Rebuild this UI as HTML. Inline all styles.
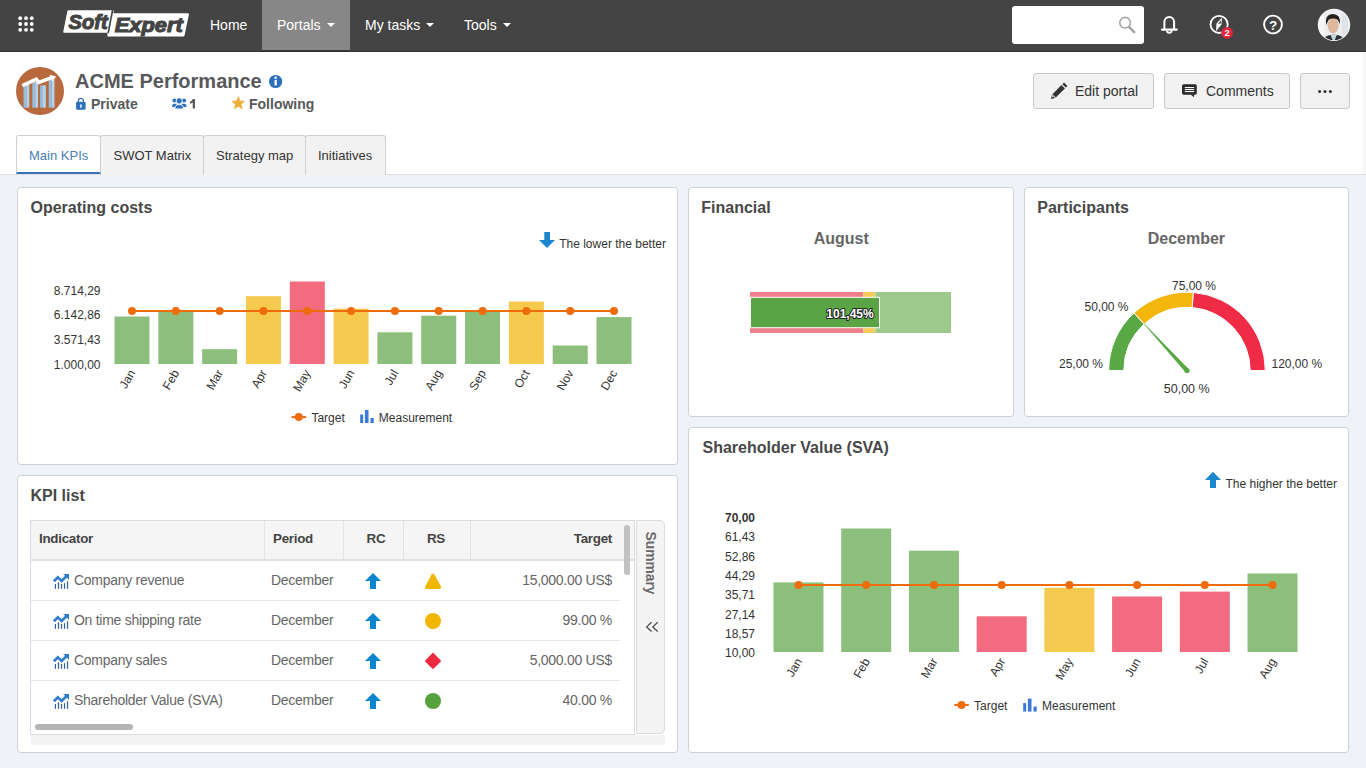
<!DOCTYPE html>
<html><head><meta charset="utf-8"><title>ACME Performance</title>
<style>
*{box-sizing:border-box;margin:0;padding:0}
html,body{width:1366px;height:768px;overflow:hidden}
body{position:relative;background:#eff2f6;font-family:"Liberation Sans",sans-serif;color:#333}
.a{position:absolute}
#nav{left:0;top:0;width:1366px;height:52px;background:#444;border-bottom:1px solid #333}
.ni{position:absolute;top:0;height:50px;line-height:50px;color:#fff;font-size:14px;white-space:nowrap}
.car{display:inline-block;width:0;height:0;border-left:4px solid transparent;border-right:4px solid transparent;border-top:4px solid #fff;vertical-align:middle;margin-left:6px;position:relative;top:-1px}
#hdr{left:0;top:52px;width:1366px;height:123px;background:#fff;border-bottom:1px solid #dcdfe3}
.btn{position:absolute;top:73px;height:36px;background:#f1f1f1;border:1px solid #c9c9c9;border-radius:3px;font-size:14px;color:#333;line-height:34px;white-space:nowrap}
.tab{position:absolute;top:135px;height:40px;background:#f2f2f2;border:1px solid #d0d0d0;border-bottom:none;border-radius:3px 3px 0 0;font-size:13px;color:#333;line-height:39px;padding-left:12px;white-space:nowrap}
.pnl{position:absolute;background:#fff;border:1px solid #cdd0d4;border-radius:3.5px}
.ttl{position:absolute;font-size:16px;font-weight:bold;color:#484848;white-space:nowrap}
</style></head>
<body>
<div id="nav" class="a">
<svg class="a" style="left:0;top:0" width="200" height="50" viewBox="0 0 200 50">
 <g fill="#fff">
  <circle cx="20.2" cy="18.2" r="1.9"/><circle cx="26" cy="18.2" r="1.9"/><circle cx="31.8" cy="18.2" r="1.9"/>
  <circle cx="20.2" cy="24" r="1.9"/><circle cx="26" cy="24" r="1.9"/><circle cx="31.8" cy="24" r="1.9"/>
  <circle cx="20.2" cy="29.8" r="1.9"/><circle cx="26" cy="29.8" r="1.9"/><circle cx="31.8" cy="29.8" r="1.9"/>
 </g>
 <path d="M68.5 10.2 L112.8 10.2 Q114 10.2 113.7 11.4 L109.3 31.6 Q109 32.8 107.8 32.8 L64.3 32.8 Q63 32.8 63.3 31.6 L67.3 11.4 Q67.5 10.2 68.5 10.2Z" fill="#fff"/>
 <path d="M111.6 13.2 L187.8 13.2 Q189.2 13.2 188.9 14.4 L184.6 35.2 Q184.3 36.4 183 36.4 L108.3 36.4 Q107 36.4 107.3 35.2 L110.5 14.4 Q110.7 13.2 111.6 13.2Z" fill="#fff"/>
 <line x1="112.6" y1="10" x2="108.2" y2="33" stroke="#444" stroke-width="1.6"/>
 <text x="68.6" y="29.2" font-family="Liberation Sans" font-weight="bold" font-style="italic" font-size="20" fill="#444" textLength="39" lengthAdjust="spacingAndGlyphs" stroke="#444" stroke-width="1.1">Soft</text>
 <text x="114.8" y="31.6" font-family="Liberation Sans" font-weight="bold" font-style="italic" font-size="20" fill="#444" textLength="68" lengthAdjust="spacingAndGlyphs" stroke="#444" stroke-width="1.1">Expert</text>
</svg>
<div class="ni" style="left:195px;width:66px;padding-left:15px">Home</div>
<div class="ni" style="left:262px;width:88px;padding-left:15px;background:#878787;box-shadow:0 1px 0 #383838">Portals<span class="car"></span></div>
<div class="ni" style="left:350px;width:99px;padding-left:15px">My tasks<span class="car"></span></div>
<div class="ni" style="left:449px;width:80px;padding-left:15px">Tools<span class="car"></span></div>
<div class="a" style="left:1012px;top:6px;width:132px;height:38px;background:#fff;border-radius:3px"></div>
<svg class="a" style="left:1000px;top:0" width="366" height="50" viewBox="1000 0 366 50">
 <circle cx="1125.1" cy="22.7" r="5.3" fill="none" stroke="#a6a6a6" stroke-width="1.6"/>
 <line x1="1129.3" y1="27.2" x2="1134.2" y2="32.2" stroke="#a0a0a0" stroke-width="2.4" stroke-linecap="round"/>
 <!-- bell -->
 <path d="M1164.4 29 V21.9 A4.85 4.85 0 0 1 1174.1 21.9 V29" fill="none" stroke="#fff" stroke-width="2"/>
 <rect x="1161" y="28.6" width="16.7" height="2.2" rx="1" fill="#fff"/>
 <path d="M1167 30.6 A2.3 2.3 0 0 0 1171.6 30.6" fill="none" stroke="#fff" stroke-width="1.8"/>
 <!-- compass -->
 <circle cx="1219.1" cy="24.4" r="8.6" fill="none" stroke="#fff" stroke-width="1.8"/>
 <path d="M1221.9 17.6 L1221.5 24.6 L1216.1 31.2 L1216.4 23.8 Z" fill="#fff"/>
 <path d="M1221 20.2 L1218 23.9 L1220.8 23.6 Z" fill="#444"/>
 <circle cx="1227.1" cy="32.8" r="5.9" fill="#e3243b"/>
 <text x="1227.1" y="36.3" text-anchor="middle" font-family="Liberation Sans" font-weight="bold" font-size="9.5" fill="#fff">2</text>
 <!-- help -->
 <circle cx="1273" cy="24.5" r="8.9" fill="none" stroke="#fff" stroke-width="1.9"/>
 <text x="1273.1" y="29.5" text-anchor="middle" font-family="Liberation Sans" font-weight="bold" font-size="13.5" fill="#fff">?</text>
 <!-- avatar -->
 <circle cx="1334" cy="24.9" r="16.2" fill="#f5f5f6"/>
 <clipPath id="av"><circle cx="1334" cy="24.9" r="15.2"/></clipPath>
 <g clip-path="url(#av)">
  <rect x="1318" y="8" width="34" height="34" fill="#eceef1"/>
  <rect x="1318" y="8" width="6" height="34" fill="#f7f7f8"/>
  <rect x="1342" y="8" width="6" height="34" fill="#dfe3e8"/>
  <path d="M1324 41 L1326 36.4 Q1329 34.6 1333.6 34.8 Q1339 34.6 1341.6 36.4 L1344 41 Z" fill="#2e3034"/>
  <path d="M1330.6 35 L1336.8 35 L1334.6 40.5 L1332.8 40.5 Z" fill="#c4d6de"/>
  <ellipse cx="1333.2" cy="25.6" rx="5.6" ry="7.6" fill="#dfb99c"/>
  <path d="M1326 25 Q1324.6 14.2 1332.8 14 Q1341 14.2 1339.8 24 L1338.6 21.6 Q1337.6 18.4 1333 18.6 Q1328.4 18.6 1327.6 22 Z" fill="#26211f"/>
 </g>
</svg>
</div>
<div id="hdr" class="a"></div>
<svg class="a" style="left:0;top:52px" width="330" height="70" viewBox="0 52 330 70">
 <circle cx="40" cy="91" r="24" fill="#b86a3e"/>
 <rect x="23.5" y="84.6" width="2.9" height="23.1" fill="#95bddd"/><rect x="26.4" y="84.6" width="2.9" height="23.1" fill="#b4d2e8"/>
 <rect x="32.3" y="81.9" width="2.9" height="25.8" fill="#95bddd"/><rect x="35.2" y="81.9" width="2.9" height="25.8" fill="#b4d2e8"/>
 <rect x="40.1" y="85.3" width="2.9" height="22.4" fill="#95bddd"/><rect x="43.0" y="85.3" width="2.9" height="22.4" fill="#b4d2e8"/>
 <rect x="48.7" y="79.6" width="2.9" height="28.1" fill="#95bddd"/><rect x="51.6" y="79.6" width="2.9" height="28.1" fill="#b4d2e8"/>
 <path d="M22.3 85.6 L36.3 79.2 L38.8 82.4 L51.6 77.6" fill="none" stroke="#fff" stroke-width="3.4" stroke-linejoin="miter"/>
 <path d="M49.6 74.8 L56.2 76.4 L52.4 81.6 Z" fill="#fff"/>
 <!-- info -->
 <circle cx="275.6" cy="81.5" r="6.6" fill="#2c6fbb"/>
 <rect x="274.5" y="80" width="2.3" height="5.4" fill="#fff"/>
 <circle cx="275.65" cy="77.8" r="1.3" fill="#fff"/>
 <!-- lock -->
 <path d="M78.4 102.2 V100.6 Q78.4 98.3 80.9 98.3 Q83.4 98.3 83.4 100.6 V102.2" fill="none" stroke="#3f6fae" stroke-width="1.3"/>
 <rect x="76.1" y="101.8" width="9.5" height="8" rx="1.2" fill="#2c6fbb"/>
 <rect x="80.1" y="104.2" width="1.6" height="3.6" rx="0.6" fill="#e8efff"/>
 <path d="M192.8 98.9 L194.95 98.9 L194.95 108.6 L192.75 108.6 L192.75 102.4 Q191.6 103.4 190 103.8 L190 101.8 Q191.9 101.1 192.8 98.9 Z" fill="#58595b"/>
 <!-- users -->
 <g fill="#2c6fbb">
  <circle cx="174.5" cy="100.5" r="2.1"/><path d="M172 106.9 Q172 103.7 174.5 103.7 L176.6 103.7 L176.6 106.9Z"/>
  <circle cx="184" cy="100.5" r="2.1"/><path d="M186.5 106.9 Q186.5 103.7 184 103.7 L181.9 103.7 L181.9 106.9Z"/>
 </g>
 <circle cx="179.2" cy="100.9" r="3.1" fill="#2c6fbb" stroke="#fff" stroke-width="0.9"/>
 <path d="M174.8 108.9 Q174.8 104.5 179.2 104.5 Q183.6 104.5 183.6 108.9Z" fill="#2c6fbb" stroke="#fff" stroke-width="0.9"/>
 <!-- star -->
 <path d="M238.30 96.80 L239.95 101.13 L244.58 101.36 L240.96 104.27 L242.18 108.74 L238.30 106.20 L234.42 108.74 L235.64 104.27 L232.02 101.36 L236.65 101.13 Z" fill="#f0ad36" stroke="#f0ad36" stroke-width="0.8" stroke-linejoin="round"/>
</svg>
<div class="a" style="left:75px;top:69px;font-size:20px;font-weight:bold;color:#58595b;line-height:24px;white-space:nowrap">ACME Performance</div>
<div class="a" style="left:91px;top:96px;font-size:14px;font-weight:bold;color:#58595b;line-height:16px">Private</div>
<div class="a" style="left:249px;top:96px;font-size:14px;font-weight:bold;color:#58595b;line-height:16px">Following</div>

<div class="btn" style="left:1033px;width:121px;padding-left:41px">Edit portal</div>
<div class="btn" style="left:1164px;width:126px;padding-left:41px">Comments</div>
<div class="btn" style="left:1300px;width:50px"></div>
<svg class="a" style="left:1040px;top:75px" width="320" height="32" viewBox="1040 75 320 32">
 <!-- pencil -->
 <g transform="translate(0.6,-1.6)">
 <path d="M1063.4 84.2 L1066.8 87.6 L1065.2 89.2 L1061.8 85.8 Z" fill="#333"/>
 <path d="M1060.9 86.7 L1064.3 90.1 L1055.2 99.2 L1051.8 95.8 Z" fill="#333"/>
 <path d="M1051.3 96.5 L1054.5 99.7 L1050.4 100.6 Z" fill="#333"/>
 <path d="M1051.9 97.4 L1052.9 98.4 L1051.1 98.9 Z" fill="#f1f1f1"/>
 </g>
 <!-- comment -->
 <rect x="1182" y="84.2" width="14.8" height="10.5" rx="1.6" fill="#2b2b2b"/>
 <path d="M1190.6 94.4 L1194.2 94.4 L1194 97.3 Z" fill="#2b2b2b"/>
 <g fill="#fff"><rect x="1184.8" y="87" width="9.4" height="1.1"/><rect x="1184.8" y="89" width="9.4" height="1.1"/><rect x="1184.8" y="91" width="9.4" height="1.1"/></g>
 <!-- dots -->
 <g fill="#333"><circle cx="1319.6" cy="91.5" r="1.5"/><circle cx="1325" cy="91.5" r="1.5"/><circle cx="1330.4" cy="91.5" r="1.5"/></g>
</svg>

<!-- tabs -->
<div class="tab" style="left:100px;width:104px;padding-left:12.5px">SWOT Matrix</div>
<div class="tab" style="left:203px;width:103px;padding-left:12px">Strategy map</div>
<div class="tab" style="left:305px;width:81px">Initiatives</div>
<div class="tab" style="left:16px;width:85px;background:#fff;color:#4a7db3;border-bottom:2px solid #3b72b6;height:39px">Main KPIs</div>

<div class="a" style="left:1362px;top:52px;width:4px;height:122px;background:#f8f8f8"></div>
<!-- panels -->
<div class="pnl" style="left:17px;top:187px;width:661px;height:278px"></div>
<div class="pnl" style="left:688px;top:187px;width:326px;height:230px"></div>
<div class="pnl" style="left:1024px;top:187px;width:325px;height:230px"></div>
<div class="pnl" style="left:17px;top:475px;width:661px;height:278px"></div>
<div class="pnl" style="left:688px;top:427px;width:661px;height:326px"></div>

<!-- KPI table -->
<div class="a" style="left:30px;top:520px;width:605px;height:215px;border:1px solid #dcdcdc;background:#fff;overflow:hidden">
 <div class="a" style="left:0;top:0;width:603px;height:40px;background:#f5f5f5;border-bottom:2px solid #e1e1e1"></div>
 <div class="a" style="left:233px;top:0;width:1px;height:38px;background:#e3e3e3"></div>
 <div class="a" style="left:312px;top:0;width:1px;height:38px;background:#e3e3e3"></div>
 <div class="a" style="left:372px;top:0;width:1px;height:38px;background:#e3e3e3"></div>
 <div class="a" style="left:439px;top:0;width:1px;height:38px;background:#e3e3e3"></div>
 <div class="a" style="left:0;top:79px;width:589px;height:1px;background:#e6e6e6"></div>
 <div class="a" style="left:0;top:119px;width:589px;height:1px;background:#e6e6e6"></div>
 <div class="a" style="left:0;top:159px;width:589px;height:1px;background:#e6e6e6"></div>
 <div class="a" style="left:593px;top:4px;width:6px;height:50px;border-radius:3px;background:#c1c1c1"></div>
 <div class="a" style="left:4px;top:203px;width:98px;height:6px;border-radius:3px;background:#b5b5b5"></div>
</div>
<div class="a" style="left:31px;top:735px;width:634px;height:10px;background:#f3f3f3"></div>
<div class="a" style="left:636px;top:520px;width:29px;height:214px;border:1px solid #dcdcdc;border-radius:0 5px 5px 0;background:#f4f4f4"></div>
<div class="a" style="left:30px;top:520px;width:605px;font-size:14px;letter-spacing:-0.28px;color:#666;line-height:20px">
 <div class="a" style="left:9px;top:9px;font-weight:bold;color:#444;font-size:13.4px">Indicator</div>
 <div class="a" style="left:243px;top:9px;font-weight:bold;color:#444;font-size:13.4px">Period</div>
 <div class="a" style="left:331px;top:9px;width:30px;text-align:center;font-weight:bold;color:#444;font-size:13.4px">RC</div>
 <div class="a" style="left:391px;top:9px;width:30px;text-align:center;font-weight:bold;color:#444;font-size:13.4px">RS</div>
 <div class="a" style="right:23px;top:9px;font-weight:bold;color:#444;font-size:13.4px">Target</div>
 <div class="a" style="left:44px;top:50px;white-space:nowrap">Company revenue</div>
 <div class="a" style="left:44px;top:90px;white-space:nowrap">On time shipping rate</div>
 <div class="a" style="left:44px;top:130px;white-space:nowrap">Company sales</div>
 <div class="a" style="left:44px;top:170px;white-space:nowrap">Shareholder Value (SVA)</div>
 <div class="a" style="left:241px;top:50px">December</div>
 <div class="a" style="left:241px;top:90px">December</div>
 <div class="a" style="left:241px;top:130px">December</div>
 <div class="a" style="left:241px;top:170px">December</div>
 <div class="a" style="right:23px;top:50px;white-space:nowrap">15,000.00 US$</div>
 <div class="a" style="right:23px;top:90px;white-space:nowrap">99.00 %</div>
 <div class="a" style="right:23px;top:130px;white-space:nowrap">5,000.00 US$</div>
 <div class="a" style="right:23px;top:170px;white-space:nowrap">40.00 %</div>
</div>
<svg class="a" style="left:0;top:0" width="1366" height="768" viewBox="0 0 1366 768" font-family="Liberation Sans">
<text x="30.5" y="212.5" font-size="16" font-weight="bold" fill="#484848">Operating costs</text>
<text x="701.3" y="212.5" font-size="16" font-weight="bold" fill="#484848">Financial</text>
<text x="1037.3" y="212.5" font-size="16" font-weight="bold" fill="#484848">Participants</text>
<text x="30.5" y="500.6" font-size="16" font-weight="bold" fill="#484848">KPI list</text>
<text x="702.5" y="453.2" font-size="16" font-weight="bold" fill="#484848">Shareholder Value (SVA)</text>
<rect x="114.50" y="316.5" width="35" height="47.5" fill="#8bbf7b"/>
<rect x="158.32" y="311.5" width="35" height="52.5" fill="#8bbf7b"/>
<rect x="202.14" y="349.2" width="35" height="14.8" fill="#8bbf7b"/>
<rect x="245.96" y="296.2" width="35" height="67.8" fill="#f6c94f"/>
<rect x="289.78" y="281.5" width="35" height="82.5" fill="#f26b7e"/>
<rect x="333.60" y="308.6" width="35" height="55.4" fill="#f6c94f"/>
<rect x="377.42" y="332.3" width="35" height="31.7" fill="#8bbf7b"/>
<rect x="421.24" y="315.7" width="35" height="48.3" fill="#8bbf7b"/>
<rect x="465.06" y="311.6" width="35" height="52.4" fill="#8bbf7b"/>
<rect x="508.88" y="301.6" width="35" height="62.4" fill="#f6c94f"/>
<rect x="552.70" y="345.5" width="35" height="18.5" fill="#8bbf7b"/>
<rect x="596.52" y="317.1" width="35" height="46.9" fill="#8bbf7b"/>
<line x1="132" y1="311" x2="614" y2="311" stroke="#ef6c0c" stroke-width="2"/>
<circle cx="132.00" cy="311" r="4" fill="#ef6c0c"/>
<circle cx="175.82" cy="311" r="4" fill="#ef6c0c"/>
<circle cx="219.64" cy="311" r="4" fill="#ef6c0c"/>
<circle cx="263.46" cy="311" r="4" fill="#ef6c0c"/>
<circle cx="307.28" cy="311" r="4" fill="#ef6c0c"/>
<circle cx="351.10" cy="311" r="4" fill="#ef6c0c"/>
<circle cx="394.92" cy="311" r="4" fill="#ef6c0c"/>
<circle cx="438.74" cy="311" r="4" fill="#ef6c0c"/>
<circle cx="482.56" cy="311" r="4" fill="#ef6c0c"/>
<circle cx="526.38" cy="311" r="4" fill="#ef6c0c"/>
<circle cx="570.20" cy="311" r="4" fill="#ef6c0c"/>
<circle cx="614.02" cy="311" r="4" fill="#ef6c0c"/>
<g font-size="12" fill="#333">
<text transform="translate(135.80,372.8) rotate(-60)" text-anchor="end">Jan</text>
<text transform="translate(179.62,372.8) rotate(-60)" text-anchor="end">Feb</text>
<text transform="translate(223.44,372.8) rotate(-60)" text-anchor="end">Mar</text>
<text transform="translate(267.26,372.8) rotate(-60)" text-anchor="end">Apr</text>
<text transform="translate(311.08,372.8) rotate(-60)" text-anchor="end">May</text>
<text transform="translate(354.90,372.8) rotate(-60)" text-anchor="end">Jun</text>
<text transform="translate(398.72,372.8) rotate(-60)" text-anchor="end">Jul</text>
<text transform="translate(442.54,372.8) rotate(-60)" text-anchor="end">Aug</text>
<text transform="translate(486.36,372.8) rotate(-60)" text-anchor="end">Sep</text>
<text transform="translate(530.18,372.8) rotate(-60)" text-anchor="end">Oct</text>
<text transform="translate(574.00,372.8) rotate(-60)" text-anchor="end">Nov</text>
<text transform="translate(617.82,372.8) rotate(-60)" text-anchor="end">Dec</text>
<text x="100.5" y="294.7" text-anchor="end">8.714,29</text>
<text x="100.5" y="319.4" text-anchor="end">6.142,86</text>
<text x="100.5" y="344.1" text-anchor="end">3.571,43</text>
<text x="100.5" y="368.8" text-anchor="end">1.000,00</text>
<text x="559.2" y="248">The lower the better</text>
<text x="311.4" y="421.9">Target</text><text x="378.8" y="421.9">Measurement</text>
</g>
<path d="M544.3 232 h5.7 v8 h5 l-8 8 l-8 -8 h5.3 z" fill="#1b87cf"/>
<line x1="291.6" y1="417.1" x2="306.1" y2="417.1" stroke="#ef6c0c" stroke-width="2"/><circle cx="298.8" cy="417.1" r="4" fill="#ef6c0c"/>
<g fill="#3c78d8"><rect x="360.2" y="414.5" width="3" height="8.5"/><rect x="364.9" y="410" width="3.6" height="13"/><rect x="370.5" y="418" width="3.2" height="5"/></g>
<rect x="773.50" y="582.4" width="50" height="69.6" fill="#8bbf7b"/>
<rect x="841.22" y="528.5" width="50" height="123.5" fill="#8bbf7b"/>
<rect x="908.94" y="550.7" width="50" height="101.3" fill="#8bbf7b"/>
<rect x="976.66" y="616.3" width="50" height="35.7" fill="#f26b7e"/>
<rect x="1044.38" y="587.8" width="50" height="64.2" fill="#f6c94f"/>
<rect x="1112.10" y="596.5" width="50" height="55.5" fill="#f26b7e"/>
<rect x="1179.82" y="591.6" width="50" height="60.4" fill="#f26b7e"/>
<rect x="1247.54" y="573.5" width="50" height="78.5" fill="#8bbf7b"/>
<line x1="798.5" y1="585" x2="1272.54" y2="585" stroke="#ef6c0c" stroke-width="2"/>
<circle cx="798.50" cy="585" r="4" fill="#ef6c0c"/>
<circle cx="866.22" cy="585" r="4" fill="#ef6c0c"/>
<circle cx="933.94" cy="585" r="4" fill="#ef6c0c"/>
<circle cx="1001.66" cy="585" r="4" fill="#ef6c0c"/>
<circle cx="1069.38" cy="585" r="4" fill="#ef6c0c"/>
<circle cx="1137.10" cy="585" r="4" fill="#ef6c0c"/>
<circle cx="1204.82" cy="585" r="4" fill="#ef6c0c"/>
<circle cx="1272.54" cy="585" r="4" fill="#ef6c0c"/>
<g font-size="12" fill="#333">
<text transform="translate(802.50,661.1) rotate(-60)" text-anchor="end">Jan</text>
<text transform="translate(870.22,661.1) rotate(-60)" text-anchor="end">Feb</text>
<text transform="translate(937.94,661.1) rotate(-60)" text-anchor="end">Mar</text>
<text transform="translate(1005.66,661.1) rotate(-60)" text-anchor="end">Apr</text>
<text transform="translate(1073.38,661.1) rotate(-60)" text-anchor="end">May</text>
<text transform="translate(1141.10,661.1) rotate(-60)" text-anchor="end">Jun</text>
<text transform="translate(1208.82,661.1) rotate(-60)" text-anchor="end">Jul</text>
<text transform="translate(1276.54,661.1) rotate(-60)" text-anchor="end">Aug</text>
<text x="755" y="657.2" text-anchor="end">10,00</text>
<text x="755" y="637.9" text-anchor="end">18,57</text>
<text x="755" y="618.6" text-anchor="end">27,14</text>
<text x="755" y="599.3" text-anchor="end">35,71</text>
<text x="755" y="580.0" text-anchor="end">44,29</text>
<text x="755" y="560.7" text-anchor="end">52,86</text>
<text x="755" y="541.4" text-anchor="end">61,43</text>
<text x="755" y="522.1" text-anchor="end" font-weight="bold">70,00</text>
<text x="1225.5" y="487.8">The higher the better</text>
<text x="974.1" y="709.5">Target</text><text x="1042" y="709.5">Measurement</text>
</g>
<path d="M1213.0 471.8 l8.0 8.15 h-5 v8.15 h-6 v-8.15 h-5 z" fill="#1b87cf"/>
<line x1="954.3" y1="705" x2="968.8" y2="705" stroke="#ef6c0c" stroke-width="2"/><circle cx="961.5" cy="705" r="4" fill="#ef6c0c"/>
<g fill="#3c78d8"><rect x="1023.2" y="703.1" width="3" height="8.5"/><rect x="1027.9" y="698.6" width="3.6" height="13"/><rect x="1033.5" y="706.6" width="3.2" height="5"/></g>
<text x="841.3" y="243.5" text-anchor="middle" font-size="16" font-weight="bold" fill="#666">August</text>
<rect x="750" y="292" width="113.2" height="41" fill="#f07f8c"/>
<rect x="863.2" y="292" width="12.1" height="41" fill="#f6cc5c"/>
<rect x="875.3" y="292" width="75.7" height="41" fill="#9dca8c"/>
<rect x="750.5" y="297.3" width="129" height="30.4" fill="#5aa446" stroke="#fff" stroke-width="1"/>
<text x="873.7" y="318.3" text-anchor="end" font-size="12" font-weight="bold" fill="#fff" stroke="#222" stroke-width="2" paint-order="stroke" stroke-linejoin="round">101,45%</text>
<text x="1186.4" y="244" text-anchor="middle" font-size="16" font-weight="bold" fill="#666">December</text>
<path d="M1108.70 370.50 A78.3 78.3 0 0 1 1133.97 312.89 L1144.20 324.00 A63.2 63.2 0 0 0 1123.80 370.50 Z" fill="#58a843" stroke="#fff" stroke-width="1"/>
<path d="M1133.97 312.89 A78.3 78.3 0 0 1 1193.47 292.47 L1192.22 307.52 A63.2 63.2 0 0 0 1144.20 324.00 Z" fill="#f3b60c" stroke="#fff" stroke-width="1"/>
<path d="M1193.47 292.47 A78.3 78.3 0 0 1 1265.30 370.50 L1250.20 370.50 A63.2 63.2 0 0 0 1192.22 307.52 Z" fill="#ef2b45" stroke="#fff" stroke-width="1"/>
<path d="M1188.69 368.94 L1143.87 323.21 L1143.43 323.62 L1185.31 372.06 Z" fill="#58a843"/>
<circle cx="1187" cy="370.5" r="2.6" fill="#58a843"/>
<g font-size="12" fill="#333">
<text x="1103" text-anchor="end" y="368">25,00 %</text>
<text x="1128.5" y="311" text-anchor="end">50,00 %</text>
<text x="1172" y="289.6">75,00 %</text>
<text x="1271.5" y="367.8">120,00 %</text>
<text x="1186.7" y="393.3" text-anchor="middle" font-size="12.5">50,00 %</text>
</g>
<g fill="#37608f"><rect x="54.8" y="584.0" width="1.25" height="4.8"/><rect x="57.9" y="582.2" width="1.25" height="6.6"/><rect x="60.9" y="584.0" width="1.25" height="4.8"/><rect x="63.9" y="583.2" width="1.25" height="5.6"/><rect x="66.9" y="581.2" width="1.25" height="7.6"/></g>
<path d="M53.9 581.2 L57.8 577.4 L61.6 581.0 L66.4 576.4" fill="none" stroke="#2c7bd0" stroke-width="2.6" stroke-linejoin="miter"/>
<path d="M63.2 574.0 L69 574.0 L69 579.8 Z" fill="#2c7bd0"/>
<path d="M373.0 573 l8.0 8.0 h-5 v8.0 h-6 v-8.0 h-5 z" fill="#0a86d0"/>
<g fill="#37608f"><rect x="54.8" y="624.0" width="1.25" height="4.8"/><rect x="57.9" y="622.2" width="1.25" height="6.6"/><rect x="60.9" y="624.0" width="1.25" height="4.8"/><rect x="63.9" y="623.2" width="1.25" height="5.6"/><rect x="66.9" y="621.2" width="1.25" height="7.6"/></g>
<path d="M53.9 621.2 L57.8 617.4 L61.6 621.0 L66.4 616.4" fill="none" stroke="#2c7bd0" stroke-width="2.6" stroke-linejoin="miter"/>
<path d="M63.2 614.0 L69 614.0 L69 619.8 Z" fill="#2c7bd0"/>
<path d="M373.0 613 l8.0 8.0 h-5 v8.0 h-6 v-8.0 h-5 z" fill="#0a86d0"/>
<g fill="#37608f"><rect x="54.8" y="664.0" width="1.25" height="4.8"/><rect x="57.9" y="662.2" width="1.25" height="6.6"/><rect x="60.9" y="664.0" width="1.25" height="4.8"/><rect x="63.9" y="663.2" width="1.25" height="5.6"/><rect x="66.9" y="661.2" width="1.25" height="7.6"/></g>
<path d="M53.9 661.2 L57.8 657.4 L61.6 661.0 L66.4 656.4" fill="none" stroke="#2c7bd0" stroke-width="2.6" stroke-linejoin="miter"/>
<path d="M63.2 654.0 L69 654.0 L69 659.8 Z" fill="#2c7bd0"/>
<path d="M373.0 653 l8.0 8.0 h-5 v8.0 h-6 v-8.0 h-5 z" fill="#0a86d0"/>
<g fill="#37608f"><rect x="54.8" y="704.0" width="1.25" height="4.8"/><rect x="57.9" y="702.2" width="1.25" height="6.6"/><rect x="60.9" y="704.0" width="1.25" height="4.8"/><rect x="63.9" y="703.2" width="1.25" height="5.6"/><rect x="66.9" y="701.2" width="1.25" height="7.6"/></g>
<path d="M53.9 701.2 L57.8 697.4 L61.6 701.0 L66.4 696.4" fill="none" stroke="#2c7bd0" stroke-width="2.6" stroke-linejoin="miter"/>
<path d="M63.2 694.0 L69 694.0 L69 699.8 Z" fill="#2c7bd0"/>
<path d="M373.0 693 l8.0 8.0 h-5 v8.0 h-6 v-8.0 h-5 z" fill="#0a86d0"/>
<path d="M433 574.8 Q433 574.8 433 574.8 L440.4 587.4 Q441 589 439.2 589 L426.8 589 Q425 589 425.6 587.4 L431.4 574.8 Q433 572.2 433 574.8Z" fill="#f1b700"/>
<path d="M433.2 573.8 Q434.2 573.8 434.8 575 L441 586.6 Q441.6 588.6 439.6 588.6 L426.6 588.6 Q424.6 588.6 425.2 586.6 L431.6 575 Q432.2 573.8 433.2 573.8Z" fill="#f1b700"/>
<circle cx="433" cy="621" r="8" fill="#f1b700"/>
<path d="M433 652.6 L440.6 660.2 Q441.4 661 440.6 661.8 L433.8 668.6 Q433 669.4 432.2 668.6 L425.4 661.8 Q424.6 661 425.4 660.2 Z" fill="#ee2a43"/>
<circle cx="433" cy="701" r="8" fill="#55a13c"/>
<text transform="translate(645.6,531.6) rotate(90)" font-size="13.8" font-weight="bold" fill="#6a6a6a">Summary</text>
<path d="M651.6 622.3 L646.7 626.9 L651.6 631.5 M657.7 622.3 L652.8 626.9 L657.7 631.5" fill="none" stroke="#4a4a4a" stroke-width="1.3"/>
</svg>
</body></html>
